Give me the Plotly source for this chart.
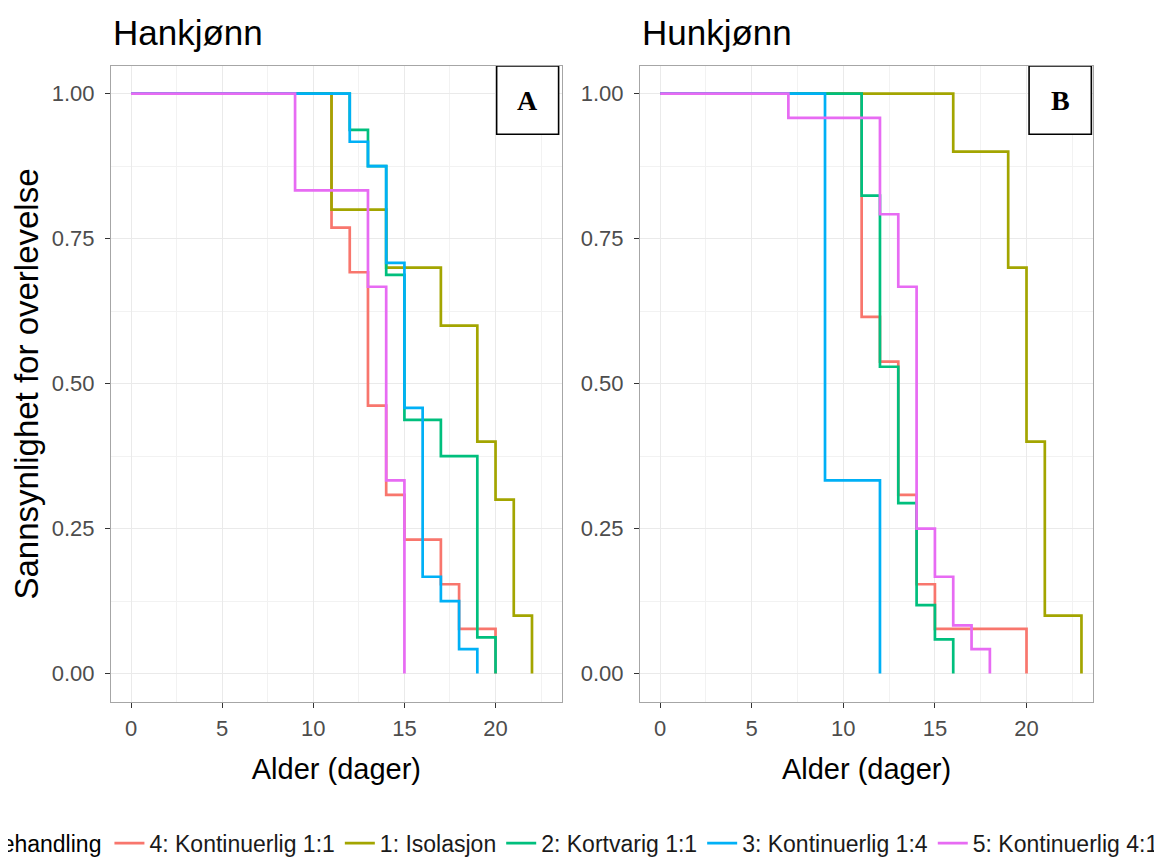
import plotly.graph_objects as go

# ---------------- data ----------------
group_names = ["4: Kontinuerlig 1:1", "1: Isolasjon", "2: Kortvarig 1:1",
               "3: Kontinuerlig 1:4", "5: Kontinuerlig 4:1"]
group_colors = ["#F8766D", "#A3A500", "#00BF7D", "#00B0F6", "#E76BF3"]

panel_titles = ["Hankjønn", "Hunkjønn"]
panel_tags = ["A", "B"]

x_ticks = [0, 5, 10, 15, 20]
y_ticks = [0.0, 0.25, 0.50, 0.75, 1.0]

# Hankjønn (A)
m_k11_days = [0, 11, 12, 13, 14, 15, 17, 18, 20]
m_k11_surv = [1.0, 0.769, 0.692, 0.462, 0.308, 0.231, 0.154, 0.077, 0.0]
m_iso_days = [0, 11, 14, 17, 19, 20, 21, 22]
m_iso_surv = [1.0, 0.8, 0.7, 0.6, 0.4, 0.3, 0.1, 0.0]
m_kort_days = [0, 12, 13, 14, 15, 17, 19, 20]
m_kort_surv = [1.0, 0.9375, 0.875, 0.6875, 0.4375, 0.375, 0.0625, 0.0]
m_k14_days = [0, 12, 13, 14, 15, 16, 17, 18, 19]
m_k14_surv = [1.0, 0.917, 0.875, 0.708, 0.458, 0.167, 0.125, 0.042, 0.0]
m_k41_days = [0, 9, 13, 14, 15]
m_k41_surv = [1.0, 0.833, 0.667, 0.333, 0.0]

# Hunkjønn (B)
f_k11_days = [0, 11, 12, 13, 14, 15, 20]
f_k11_surv = [1.0, 0.615, 0.538, 0.308, 0.154, 0.077, 0.0]
f_iso_days = [0, 16, 19, 20, 21, 23]
f_iso_surv = [1.0, 0.9, 0.7, 0.4, 0.1, 0.0]
f_kort_days = [0, 11, 12, 13, 14, 15, 16]
f_kort_surv = [1.0, 0.824, 0.529, 0.294, 0.118, 0.059, 0.0]
f_k14_days = [0, 9, 12]
f_k14_surv = [1.0, 0.333, 0.0]
f_k41_days = [0, 7, 12, 13, 14, 15, 16, 17, 18]
f_k41_surv = [1.0, 0.958, 0.792, 0.667, 0.25, 0.167, 0.083, 0.042, 0.0]

male_series = [(m_k11_days, m_k11_surv), (m_iso_days, m_iso_surv),
               (m_kort_days, m_kort_surv), (m_k14_days, m_k14_surv),
               (m_k41_days, m_k41_surv)]
female_series = [(f_k11_days, f_k11_surv), (f_iso_days, f_iso_surv),
                 (f_kort_days, f_kort_surv), (f_k14_days, f_k14_surv),
                 (f_k41_days, f_k41_surv)]

# ---------------- figure ----------------
FONT = "Liberation Sans, Arial, Helvetica, sans-serif"
fig = go.Figure()

for panel, series in enumerate([male_series, female_series]):
    xa = "x" if panel == 0 else "x2"
    ya = "y" if panel == 0 else "y2"
    for name, color, (days, surv) in zip(group_names, group_colors, series):
        fig.add_trace(go.Scatter(
            x=days, y=surv, mode="lines", name=name,
            line=dict(color=color, width=2.7, shape="hv"),
            xaxis=xa, yaxis=ya, legendgroup=name,
            showlegend=(panel == 0), hoverinfo="skip"))

# the page body adds an 8px offset, so margins are compensated
L, R, T, B = 103, 77, 58, 163
W, H = 1162, 857
pw = W - L - R
domA = [0, (561.7 - 111) / pw]
domB = [(640 - 111) / pw, 1]

axis_common = dict(
    showline=True, linecolor="#A6A6A6", linewidth=1, mirror=True,
    ticks="outside", ticklen=5, tickwidth=1.2, tickcolor="#333333",
    tickfont=dict(family=FONT, size=22, color="#4D4D4D"),
    showgrid=True, gridcolor="#EAEAEA", gridwidth=1.4, zeroline=False,
)
xcommon = dict(axis_common, range=[-1.1, 23.63], tickmode="array", tickvals=x_ticks,
               ticklabelstandoff=2,
               minor=dict(tickmode="linear", tick0=2.5, dtick=5, showgrid=True,
                          gridcolor="#F2F2F2", gridwidth=1.1, ticks=""),
               title=dict(text="Alder (dager)", font=dict(family=FONT, size=29, color="#000000"),
                          standoff=18))
ycommon = dict(axis_common, range=[-0.049, 1.0476], tickmode="array", tickvals=y_ticks,
               tickformat=".2f", ticklabelstandoff=6,
               minor=dict(tickmode="linear", tick0=0.125, dtick=0.25, showgrid=True,
                          gridcolor="#F2F2F2", gridwidth=1.1, ticks=""))

fig.update_layout(
    width=W, height=H,
    margin=dict(l=L, r=R, t=T, b=B, autoexpand=False),
    paper_bgcolor="white", plot_bgcolor="white",
    font=dict(family=FONT, color="#000000"),
    xaxis=dict(xcommon, domain=domA, anchor="y"),
    xaxis2=dict(xcommon, domain=domB, anchor="y2"),
    yaxis=dict(ycommon, domain=[0, 1], anchor="x",
               title=dict(text="Sannsynlighet for overlevelse",
                          font=dict(family=FONT, size=33, color="#000000"), standoff=6)),
    yaxis2=dict(ycommon, domain=[0, 1], anchor="x2"),
    legend=dict(orientation="h", x=-0.129, xanchor="left", y=-0.222, yanchor="middle",
                font=dict(family=FONT, size=23, color="#1A1A1A"),
                title=dict(text="Behandling", font=dict(family=FONT, size=23, color="#000000"),
                           side="left"),
                bgcolor="rgba(0,0,0,0)", itemwidth=30),
    showlegend=True,
)

# panel titles
for i, (title, dom) in enumerate(zip(panel_titles, [domA, domB])):
    fig.add_annotation(text=title, xref="paper", yref="paper", x=dom[0], y=1,
                       xanchor="left", yanchor="bottom", yshift=12, showarrow=False,
                       font=dict(family=FONT, size=35, color="#000000"))

# A / B tag boxes
for i, tag in enumerate(panel_tags):
    xr = "x" if i == 0 else "x2"
    yr = "y" if i == 0 else "y2"
    x0, x1 = (20.06, 23.46) if i == 0 else (20.14, 23.54)
    fig.add_shape(type="rect", xref=xr, yref=yr, x0=x0, x1=x1, y0=0.93, y1=1.0476,
                  line=dict(color="#000000", width=1.6), fillcolor="white", layer="above")
    fig.add_annotation(text="<b>%s</b>" % tag, xref=xr, yref=yr, x=(x0 + x1) / 2,
                       y=(0.93 + 1.0476) / 2, showarrow=False, xanchor="center", yanchor="middle",
                       font=dict(family="Liberation Serif, Times New Roman, serif", size=28,
                                 color="#000000"))

fig.write_html("out.html")
